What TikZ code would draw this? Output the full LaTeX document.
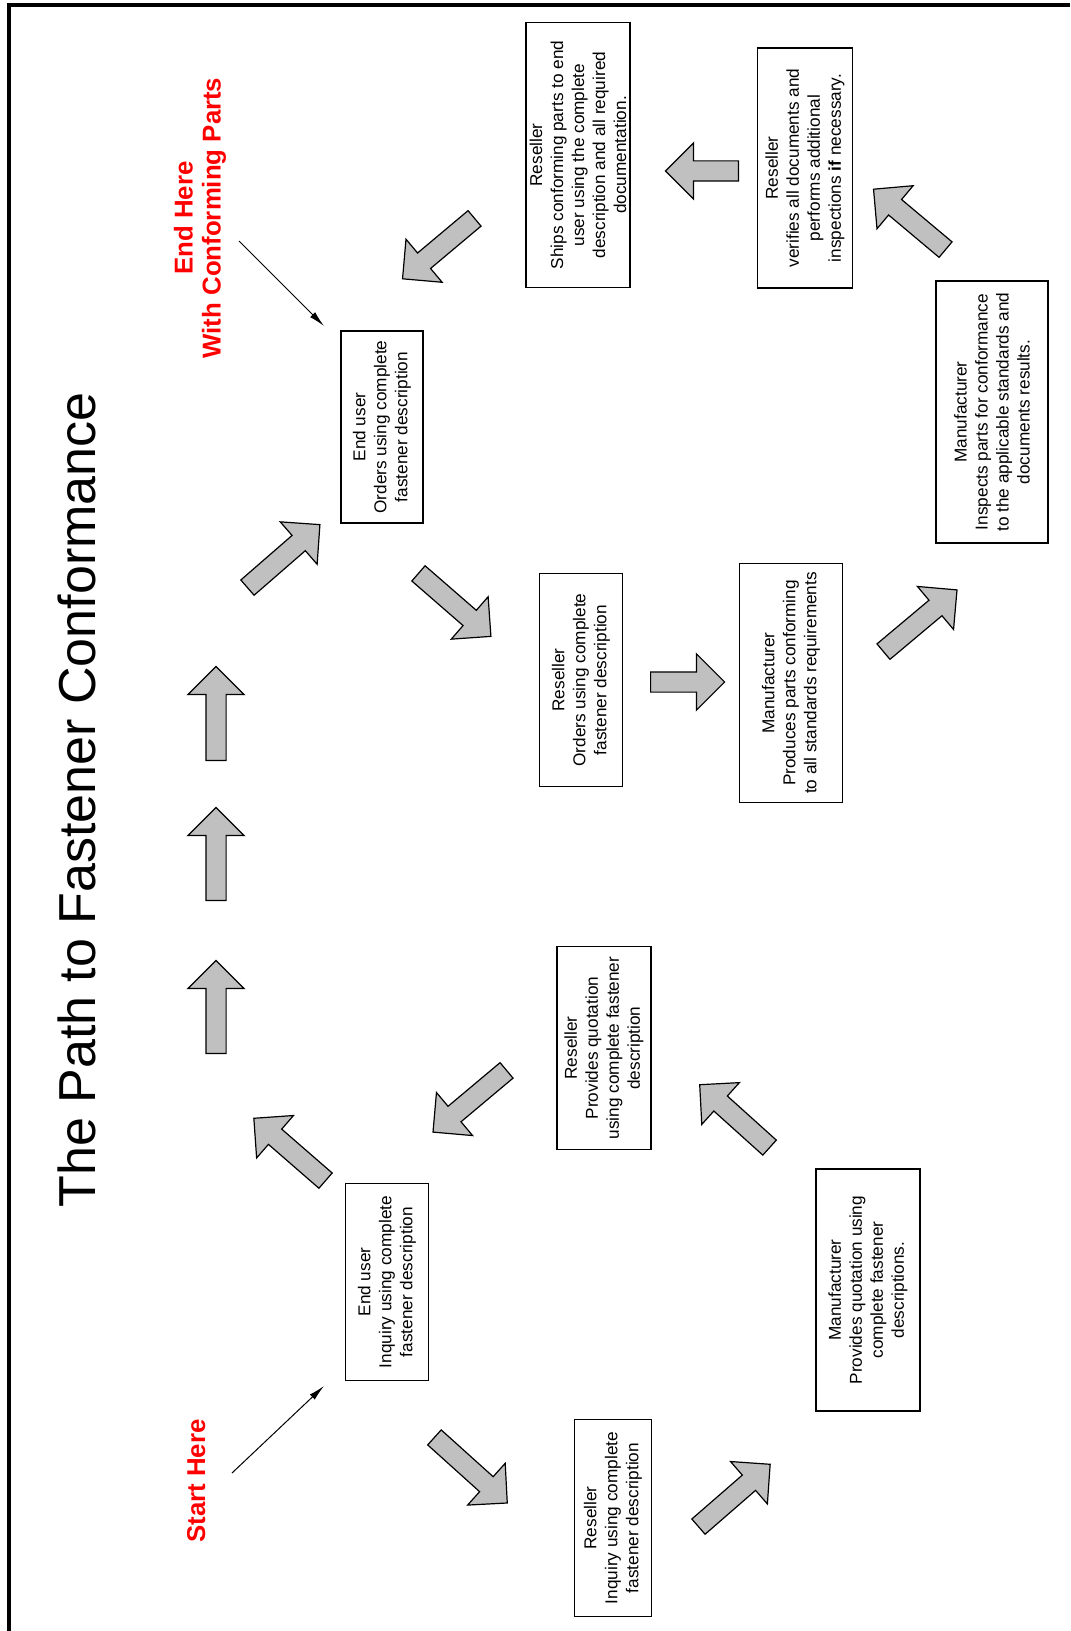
\documentclass[tikz,border=0pt]{standalone}
\usepackage{fontspec}
\setmainfont{Liberation Sans}
\usetikzlibrary{shapes.arrows,arrows.meta}
\definecolor{arrowgray}{RGB}{192,192,192}
\tikzset{
    stepbox/.style={draw,line width=0.6pt,rotate=90,align=center,inner sep=1pt,font=\fontsize{8.6}{10.5}\selectfont},
    bigarrow/.style={single arrow,draw,line width=0.6pt,fill=arrowgray,anchor=tail,inner xsep=0pt,inner ysep=4.75pt,single arrow head extend=9pt},
    pointer/.style={-{Latex[length=8pt,width=3.5pt]},line width=0.5pt},
    redlabel/.style={red,rotate=90,align=center,font=\bfseries\fontsize{12.9}{14}\selectfont}
}
\begin{document}
\begin{tikzpicture}[x=0.5pt,y=-0.5pt]
\useasboundingbox (0,0) rectangle (1070,1631);
\draw[line width=2pt] (9,1631)--(9,5)--(1070,5);
\node[rotate=90,anchor=base,font=\fontsize{26}{30}\selectfont] (title) at (95,800) {The Path to Fastener Conformance};
\node[redlabel] (endhere) at (200,218) {End Here\\With Conforming Parts};
\node[redlabel,anchor=base] (starthere) at (205,1481) {Start Here};
\node[stepbox,minimum width=96pt,minimum height=41pt] (endorders) at (382,427) {End user\\Orders using complete\\fastener description};
\node[stepbox,minimum width=132.5pt,minimum height=52pt] (ships) at (578,155) {Reseller\\Ships conforming parts to end\\user using the complete\\description and all required\\documentation.};
\node[stepbox,minimum width=120pt,minimum height=47.5pt] (verifies) at (805,168) {Reseller\\verifies all documents and\\performs additional\\inspections \textbf{if} necessary.};
\node[stepbox,minimum width=131pt,minimum height=56pt] (inspects) at (992,412) {Manufacturer\\Inspects parts for conformance\\to the applicable standards and\\documents results.};
\node[stepbox,minimum width=106.5pt,minimum height=41.5pt] (resorders) at (581,680) {Reseller\\Orders using complete\\fastener description};
\node[stepbox,minimum width=119.5pt,minimum height=51.5pt] (produces) at (791,683) {Manufacturer\\Produces parts conforming\\to all standards requirements};
\node[stepbox,minimum width=101.5pt,minimum height=47pt] (resquote) at (604,1048) {Reseller\\Provides quotation\\using complete fastener\\description};
\node[stepbox,minimum width=98.5pt,minimum height=41.5pt] (endinquiry) at (387,1282) {End user\\Inquiry using complete\\fastener description};
\node[stepbox,minimum width=121pt,minimum height=52pt] (mfgquote) at (868,1290) {Manufacturer\\Provides quotation using\\complete fastener\\descriptions.};
\node[stepbox,minimum width=98.5pt,minimum height=38.5pt] (resinquiry) at (613,1518) {Reseller\\Inquiry using complete\\fastener description};
\node[bigarrow,rotate=90,minimum height=46.5pt] (upone) at (216,1054) {};
\node[bigarrow,rotate=90,minimum height=46.5pt] (uptwo) at (216,901) {};
\node[bigarrow,rotate=90,minimum height=47pt] (upthree) at (216,761) {};
\node[bigarrow,rotate=139,minimum height=47.5pt] (inqleft) at (326,1181) {};
\node[bigarrow,rotate=41,minimum height=48pt] (ordright) at (247,588) {};
\node[bigarrow,rotate=-41,minimum height=48pt] (orddown) at (418,573) {};
\node[bigarrow,rotate=0,minimum height=37pt] (toproduce) at (650,682) {};
\node[bigarrow,rotate=40,minimum height=48pt] (toinspect) at (883,652) {};
\node[bigarrow,rotate=140,minimum height=47pt] (toverify) at (946,250) {};
\node[bigarrow,rotate=180,minimum height=36.5pt] (toship) at (739,171) {};
\node[bigarrow,rotate=220,minimum height=47pt] (shipdown) at (475,218) {};
\node[bigarrow,rotate=-42,minimum height=49pt] (inqdown) at (434,1437) {};
\node[bigarrow,rotate=41,minimum height=47.5pt] (tomfg) at (698,1527) {};
\node[bigarrow,rotate=138,minimum height=47pt] (toquote) at (770,1148) {};
\node[bigarrow,rotate=220,minimum height=48pt] (quotedown) at (507,1070) {};
\coordinate (endfrom) at (239,241);
\coordinate (endto) at (324,326);
\coordinate (startfrom) at (232,1473);
\coordinate (startto) at (324,1386);
\draw[pointer] (endfrom)--(endto);
\draw[pointer] (startfrom)--(startto);
\end{tikzpicture}
\end{document}
